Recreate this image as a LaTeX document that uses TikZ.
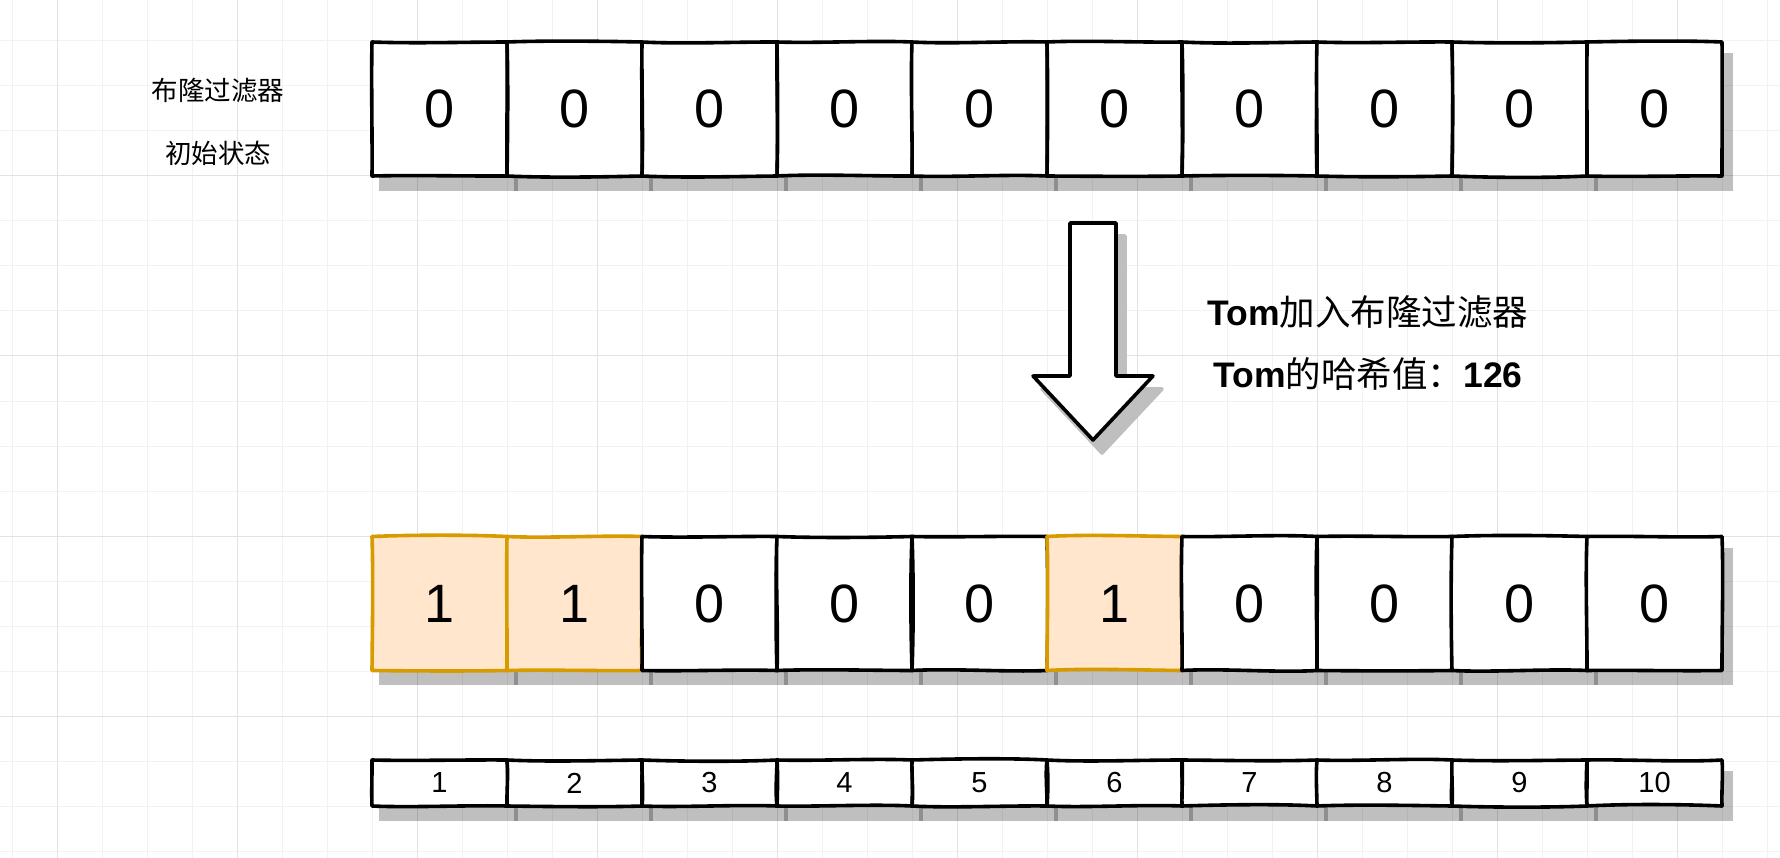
\documentclass[tikz,border=0pt]{standalone}
\usepackage{fontspec}
\setmainfont{Liberation Sans}
\newfontfamily\cjk{Noto Sans CJK SC}
\usetikzlibrary{calc}
\definecolor{gridminor}{HTML}{F2F2F2}
\definecolor{gridmajor}{HTML}{E2E2E2}
\definecolor{orfill}{HTML}{FFE6CC}
\definecolor{orline}{HTML}{D79B00}
\definecolor{shgray}{HTML}{BFBFBF}
\pgfdeclarelayer{gridlayer}
\pgfdeclarelayer{shadowlayer}
\pgfsetlayers{gridlayer,shadowlayer,main}
% hand-drawn border around a named node: #1 name, #2 colour, #3 vertical handle
\newcommand\skbox[3]{%
  \pgfmathsetmacro\sa{rand*2.4}\pgfmathsetmacro\sb{rand*2.4}%
  \pgfmathsetmacro\sc{rand*1.8}\pgfmathsetmacro\sd{rand*1.8}%
  \pgfmathsetmacro\se{rand*2.4}\pgfmathsetmacro\sf{rand*2.4}%
  \pgfmathsetmacro\sg{rand*1.8}\pgfmathsetmacro\sh{rand*1.8}%
  \draw[skline,#2]
    (#1.north west) .. controls +(40,\sa) and +(-40,\sb) .. (#1.north east)
    .. controls +(\sc,#3) and +(\sd,-#3) .. (#1.south east)
    .. controls +(-40,\se) and +(40,\sf) .. (#1.south west)
    .. controls +(\sg,-#3) and +(\sh,#3) .. (#1.north west) -- cycle;
}
\begin{document}
\begin{tikzpicture}[x=1pt,y=-1pt,
  skline/.style={line width=3.6pt,line join=round,line cap=round},
  cellbase/.style={rectangle,inner sep=0pt,outer sep=0pt,draw=none,
    minimum width=135pt},
  bigcell/.style={cellbase,minimum height=134pt,font=\fontsize{54}{60}\selectfont},
  idxcell/.style={cellbase,minimum height=46pt,fill=white,font=\fontsize{29}{34}\selectfont},
  cellwh/.style={bigcell,fill=white},
  cellor/.style={bigcell,fill=orfill},
  labeltext/.style={inner sep=0pt,font=\cjk\fontsize{26.5}{32}\selectfont},
  boldtext/.style={inner sep=0pt,font=\fontsize{35.5}{40}\selectfont\bfseries},
  shadowfill/.style={fill=black,fill opacity=0.25},
]
\pgfmathsetseed{11}
\useasboundingbox (0,0) rectangle (1780,858);
% grid
\begin{pgfonlayer}{gridlayer}
\fill[white] (0,0) rectangle (1780,858);
\foreach \k in {0,...,39}{\pgfmathsetmacro\gx{12+45*\k}
  \draw[gridminor,line width=1pt] (\gx,0) -- (\gx,858);}
\foreach \k in {0,...,18}{\pgfmathsetmacro\gy{41+45*\k}
  \draw[gridminor,line width=1pt] (0,\gy) -- (1780,\gy);}
\foreach \k in {0,...,9}{\pgfmathsetmacro\gx{57+180*\k}
  \draw[gridmajor,line width=1pt] (\gx,0) -- (\gx,858);}
\foreach \k in {0,...,3}{\pgfmathsetmacro\gy{176+180*\k}
  \draw[gridmajor,line width=1pt] (0,\gy) -- (1780,\gy);}
\end{pgfonlayer}

% labels
\node[labeltext] (lab1) at (218,90) {布隆过滤器};
\node[labeltext] (lab2) at (218,153) {初始状态};
\node[boldtext] (t1) at (1368,312) {Tom{\cjk\mdseries 加入布隆过滤器}};
\node[boldtext] (t2) at (1368,374) {Tom{\cjk\mdseries 的哈希值：}126};

% top row (initial state)
\foreach \i in {1,...,10}{
  \node[cellwh] (a\i) at ({304.5+135*\i},109) {0};
  \skbox{a\i}{black}{40}
  \begin{pgfonlayer}{shadowlayer}
    \fill[shadowfill] ($(a\i.north west)+(7.25,11.25)$) rectangle ($(a\i.south east)+(10.75,14.75)$);
  \end{pgfonlayer}
}

% arrow
\begin{pgfonlayer}{shadowlayer}
\filldraw[shgray,line width=3.6pt,line join=round,shift={(9,13)}]
  (1070,223) -- (1116,223) -- (1116,376) -- (1153,376) -- (1093,440)
  -- (1033,376) -- (1070,376) -- cycle;
\end{pgfonlayer}
\filldraw[fill=white,draw=black,line width=3.6pt,line join=round]
  (1070,223) -- (1116,223) -- (1116,376) -- (1153,376) -- (1093,440)
  -- (1033,376) -- (1070,376) -- cycle;

% bottom row (after adding Tom)
\foreach \i/\v/\c/\l in {1/1/cellor/orline,2/1/cellor/orline,3/0/cellwh/black,
  4/0/cellwh/black,5/0/cellwh/black,6/1/cellor/orline,7/0/cellwh/black,
  8/0/cellwh/black,9/0/cellwh/black,10/0/cellwh/black}{
  \node[\c] (b\i) at ({304.5+135*\i},603.5) {\v};
  \skbox{b\i}{\l}{40}
  \begin{pgfonlayer}{shadowlayer}
    \fill[shadowfill] ($(b\i.north west)+(7.25,11.25)$) rectangle ($(b\i.south east)+(10.75,14.75)$);
  \end{pgfonlayer}
}

% index row
\foreach \i in {1,...,10}{
  \node[idxcell] (n\i) at ({304.5+135*\i},783) {\i};
  \skbox{n\i}{black}{14}
  \begin{pgfonlayer}{shadowlayer}
    \fill[shadowfill] ($(n\i.north west)+(7.25,11.25)$) rectangle ($(n\i.south east)+(10.75,14.75)$);
  \end{pgfonlayer}
}
\end{tikzpicture}
\end{document}
